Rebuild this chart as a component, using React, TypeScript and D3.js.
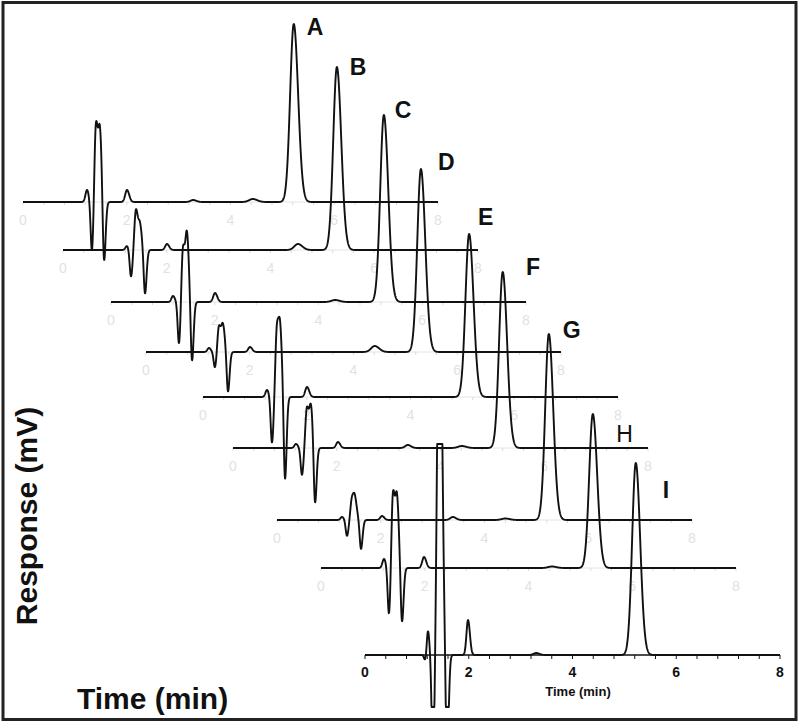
import React from 'react';
import * as d3 from 'd3';

const W = 800;
const H = 723;

// trace names (top to bottom)
const traceNames = ['A', 'B', 'C', 'D', 'E', 'F', 'G', 'H', 'I'];
// waterfall offsets of each trace: time shift (min) and response shift (mV)
const traceTimeOffset = [-6.593, -5.822, -4.896, -4.222, -3.123, -2.545, -1.696, -0.848, 0];
const traceRespOffset = [453, 405, 353, 303, 258, 207, 135, 87, 0];
// display clipping range of each trace (mV)
const traceClipLow = [-999, -999, -999, -999, -999, -999, -999, -999, -52];
const traceClipHigh = [999, 999, 999, 999, 999, 999, 999, 999, 211];

// peak tables: [retention time (min), height (mV), width sigma (min)]
const peaksA = [[1.234, 12, 0.03], [1.33, -51, 0.025], [1.407, 79, 0.03], [1.484, 68, 0.03], [1.561, -64, 0.025], [2.005, 12, 0.035], [3.28, 2, 0.05], [4.43, 3, 0.07], [5.22, 178, 0.07]];
const peaksB = [[1.234, 4, 0.03], [1.311, -27, 0.025], [1.407, 40, 0.03], [1.484, 24, 0.03], [1.581, -44, 0.025], [2.005, 6, 0.035], [4.53, 6, 0.07], [5.28, 183, 0.07]];
const peaksC = [[1.195, 6, 0.03], [1.311, -43, 0.025], [1.388, 55, 0.03], [1.465, 65, 0.03], [1.561, -60, 0.025], [2.005, 9, 0.035], [4.32, 2, 0.07], [5.26, 187, 0.07]];
const peaksD = [[1.214, 4, 0.03], [1.33, -16, 0.025], [1.407, 26, 0.03], [1.484, 26, 0.03], [1.581, -40, 0.025], [2.005, 5, 0.035], [4.41, 6, 0.07], [5.30, 183, 0.07]];
const peaksE = [[1.234, 7, 0.03], [1.33, -46, 0.025], [1.426, 68, 0.03], [1.49, 60, 0.03], [1.581, -84, 0.025], [2.005, 10, 0.035], [5.13, 163, 0.07]];
const peaksF = [[1.214, 4, 0.03], [1.33, -27, 0.025], [1.426, 40, 0.03], [1.504, 40, 0.03], [1.581, -58, 0.025], [2.024, 6, 0.035], [3.37, 3, 0.05], [4.41, 2, 0.07], [5.20, 176, 0.07]];
const peaksG = [[1.253, 3, 0.03], [1.349, -16, 0.025], [1.446, 21, 0.03], [1.504, 19, 0.03], [1.619, -29, 0.025], [2.024, 4, 0.035], [3.39, 3, 0.05], [4.40, 1.5, 0.07], [5.24, 186, 0.07]];
const peaksH = [[1.214, 9, 0.03], [1.311, -48, 0.025], [1.388, 76, 0.03], [1.465, 67, 0.03], [1.561, -55, 0.025], [1.986, 11, 0.035], [4.45, 1.5, 0.07], [5.24, 154, 0.07]];
const peaksI = [[1.157, -5, 0.02], [1.214, 24, 0.022], [1.311, -110, 0.025], [1.436, 420, 0.04], [1.581, -110, 0.025], [1.986, 35, 0.03], [3.30, 2, 0.05], [5.22, 192, 0.07]];
const tracePeaks = [peaksA, peaksB, peaksC, peaksD, peaksE, peaksF, peaksG, peaksH, peaksI];

// label anchor of each trace in its own coordinates: [time (min), response (mV)]
const labelAnchor = [[5.47, 167], [5.53, 175], [5.47, 184], [5.63, 182], [5.30, 172], [5.65, 173], [5.51, 182], [5.69, 126], [5.74, 157]];

const axisLabels = [0, 2, 4, 6, 8];
const minorTicks = d3.range(0, 8.0001, 0.4);

const FONT = '"Liberation Sans", Arial, Helvetica, sans-serif';

export default function App() {
  const x = d3.scaleLinear().domain([0, 8]).range([365, 780]);
  const y = d3.scaleLinear().domain([0, 100]).range([655, 555]);
  const times = d3.range(0, 8.0001, 0.004);
  const tail = 1.2;

  const signal = (peaks: number[][], t: number) =>
    peaks.reduce((s, [pt, h, sg]) => {
      const d = t - pt;
      const sig = d > 0 ? sg * tail : sg;
      return s + h * Math.exp(-(d * d) / (2 * sig * sig));
    }, 0);

  return (
    <svg width={W} height={H} style={{ position: 'absolute', left: 0, top: 0, background: '#fff' }} fontFamily={FONT}>
      <rect x={0} y={0} width={W} height={H} fill="#fff" />
      {/* faint axes of stacked traces */}
      {traceNames.map((name, i) => {
        if (i === traceNames.length - 1) return null;
        const oT = traceTimeOffset[i];
        const oR = traceRespOffset[i];
        const by = y(oR);
        return (
          <g key={'ax' + name}>
            <line x1={x(oT)} x2={x(8 + oT)} y1={by} y2={by} stroke="#e4e4e4" strokeWidth={1} />
            {minorTicks.map((t) => (
              <line key={t} x1={x(t + oT)} x2={x(t + oT)} y1={by} y2={by + 3} stroke="#dcdcdc" strokeWidth={1} />
            ))}
            {axisLabels.map((t) => (
              <text key={t} x={x(t + oT)} y={by + 23} fontSize={14} fill="#e2e2e2" textAnchor="middle">
                {t}
              </text>
            ))}
          </g>
        );
      })}
      {/* bottom axis (trace I) */}
      <g>
        <line x1={x(0)} x2={x(8)} y1={y(0)} y2={y(0)} stroke="#111" strokeWidth={1.5} />
        {minorTicks.map((t) => (
          <line key={t} x1={x(t)} x2={x(t)} y1={y(0)} y2={y(0) + 4} stroke="#111" strokeWidth={1} />
        ))}
        {axisLabels.map((t) => (
          <text key={t} x={x(t)} y={677} fontSize={14} fontWeight="bold" fill="#111" textAnchor="middle">
            {t}
          </text>
        ))}
        <text x={578} y={696} fontSize={13} fontWeight="bold" fill="#111" textAnchor="middle">
          Time (min)
        </text>
      </g>
      {/* chromatogram traces */}
      {traceNames.map((name, i) => {
        const oT = traceTimeOffset[i];
        const oR = traceRespOffset[i];
        const lo = traceClipLow[i];
        const hi = traceClipHigh[i];
        const pts: [number, number][] = times.map((t) => [t, Math.max(lo, Math.min(hi, signal(tracePeaks[i], t)))]);
        const line = d3
          .line<[number, number]>()
          .x((d) => x(d[0] + oT))
          .y((d) => y(d[1] + oR));
        return (
          <path key={'tr' + name} d={line(pts) || ''} fill="none" stroke="#111" strokeWidth={1.9} strokeLinejoin="round" />
        );
      })}
      {/* trace labels */}
      {traceNames.map((name, i) => (
        <text
          key={'lb' + name}
          x={x(labelAnchor[i][0] + traceTimeOffset[i])}
          y={y(labelAnchor[i][1] + traceRespOffset[i])}
          fontSize={23}
          fontWeight={name === 'H' ? 'normal' : 'bold'}
          fill="#111"
        >
          {name}
        </text>
      ))}
      {/* main axis titles */}
      <text transform="translate(37,516) rotate(-90)" fontSize={30} fontWeight="bold" fill="#111" textAnchor="middle">
        Response (mV)
      </text>
      <text x={77} y={709} fontSize={30} fontWeight="bold" fill="#111">
        Time (min)
      </text>
      {/* frame */}
      <rect x={3} y={2.5} width={793} height={717} fill="none" stroke="#222" strokeWidth={3} />
    </svg>
  );
}
